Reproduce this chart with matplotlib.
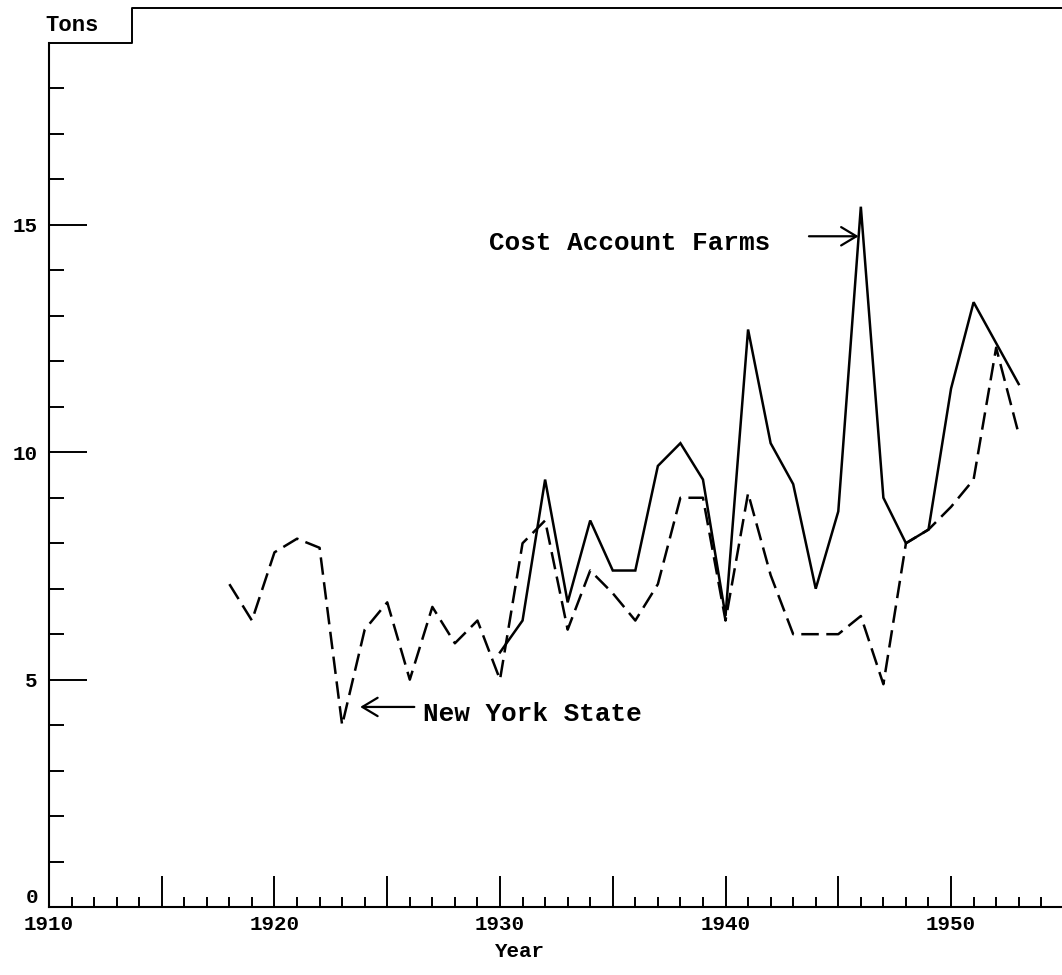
#Hay yields per acre: Cost Account Farms vs New York State
import numpy as np
import matplotlib.pyplot as plt
from matplotlib.ticker import FixedLocator

#Data (tons)
ny_years = list(range(1918, 1954))
ny_tons = [7.1, 6.3, 7.8, 8.1, 7.9, 4.0, 6.1, 6.7, 5.0, 6.6, 5.8, 6.3, 5.0,
           8.0, 8.5, 6.1, 7.4, 6.9, 6.3, 7.1, 9.0, 9.0, 6.3, 9.1, 7.3, 6.0,
           6.0, 6.0, 6.4, 4.9, 8.0, 8.3, 8.8, 9.4, 12.3, 10.4]

cost_years = list(range(1930, 1954))
cost_tons = [5.6, 6.3, 9.4, 6.7, 8.5, 7.4, 7.4, 9.7, 10.2, 9.4, 6.4, 12.7,
             10.2, 9.3, 7.0, 8.7, 15.4, 9.0, 8.0, 8.3, 11.4, 13.3, 12.4, 11.5]

five_year_ticks = list(range(1910, 1955, 5))
decade_labels = ['1910', '', '1920', '', '1930', '', '1940', '', '1950']

mono = 'Liberation Mono'
wt = 'bold'

fig = plt.figure(figsize=(10.62, 9.75), dpi=100)
ax = fig.add_axes([0.0461, 0.0697, 0.9539, 0.8862])

ax.plot(cost_years, cost_tons, color='black', lw=1.8, solid_joinstyle='miter')
ax.plot(ny_years, ny_tons, color='black', lw=1.8, dashes=(7, 3))

ax.set_xlim(1910, 1954.92)
ax.set_ylim(0, 19)

#spines: only left and bottom, plus the stepped top edge around "Tons"
for s in ['top', 'right']:
    ax.spines[s].set_visible(False)
for s in ['left', 'bottom']:
    ax.spines[s].set_linewidth(1.5)
ax.plot([0, 0.082, 0.082, 1.0], [1.0, 1.0, 1.0405, 1.0405], color='black',
        lw=1.4, transform=ax.transAxes, clip_on=False)

#x ticks: yearly minor, 5-year major, labels on decades
ax.xaxis.set_major_locator(FixedLocator(five_year_ticks))
ax.xaxis.set_minor_locator(FixedLocator(list(range(1911, 1955))))
ax.set_xticklabels(decade_labels)
ax.tick_params(axis='x', which='major', direction='in', length=22, width=1.4,
               pad=6, labelsize=15)
ax.tick_params(axis='x', which='minor', direction='in', length=7, width=1.4)

#y ticks
ax.yaxis.set_major_locator(FixedLocator([0, 5, 10, 15]))
ax.yaxis.set_minor_locator(FixedLocator([v for v in range(1, 19) if v % 5]))
ax.set_yticklabels(['0', '5', '10', '15'])
ax.tick_params(axis='y', which='major', direction='in', length=27, width=1.4,
               pad=8, labelsize=15)
ax.tick_params(axis='y', which='minor', direction='in', length=11, width=1.4)
ax.get_yticklabels()[0].set_va('bottom')

for lab in ax.get_xticklabels() + ax.get_yticklabels():
    lab.set_family(mono)
    lab.set_weight(wt)

ax.set_xlabel('Year', fontsize=15, family=mono, weight=wt)
ax.xaxis.set_label_coords(0.465, -0.04)
fig.text(0.068, 0.974, 'Tons', fontsize=16, family=mono, weight=wt,
         ha='center', va='center')

#annotations
i_peak = int(np.argmax(cost_tons))
ax.annotate('', xy=(cost_years[i_peak] - 0.1, cost_tons[i_peak] - 0.65),
            xytext=(cost_years[i_peak] - 2.3, cost_tons[i_peak] - 0.65),
            arrowprops=dict(arrowstyle='->, head_length=0.5, head_width=0.3',
                            color='black', lw=1.6, mutation_scale=22,
                            shrinkA=0, shrinkB=0))
ax.text(cost_years[i_peak] - 4.0, cost_tons[i_peak] - 0.8, 'Cost Account Farms',
        fontsize=18.7, family=mono, weight=wt, ha='right', va='center')

i_low = int(np.argmin(ny_tons))
ax.annotate('', xy=(ny_years[i_low] + 0.8, ny_tons[i_low] + 0.4),
            xytext=(ny_years[i_low] + 3.2, ny_tons[i_low] + 0.4),
            arrowprops=dict(arrowstyle='->, head_length=0.5, head_width=0.3',
                            color='black', lw=1.6, mutation_scale=22,
                            shrinkA=0, shrinkB=0))
ax.text(ny_years[i_low] + 3.6, ny_tons[i_low] + 0.25, 'New York State',
        fontsize=18.7, family=mono, weight=wt, ha='left', va='center')

plt.savefig('out.png', dpi=100)
